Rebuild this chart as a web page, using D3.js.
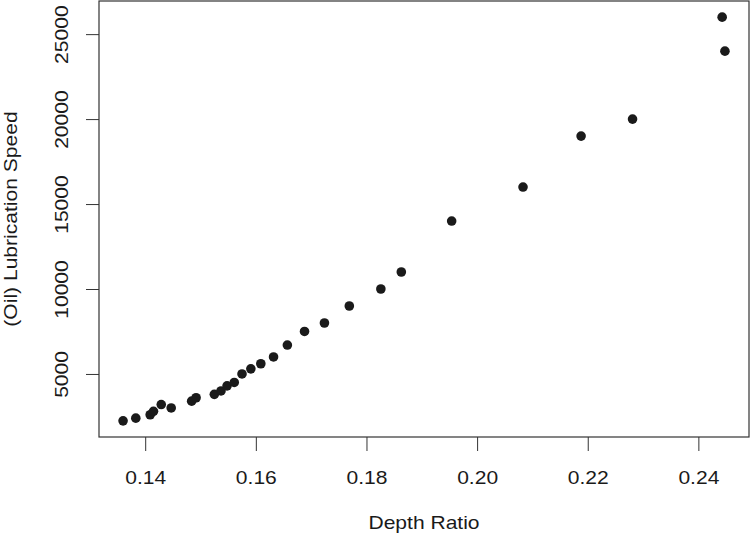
<!DOCTYPE html>
<html>
<head>
<meta charset="utf-8">
<script src="https://cdn.jsdelivr.net/npm/d3@7"></script>
<style>
  body { margin: 0; background: #fff; }
  svg { display: block; }
  text { font-family: "Liberation Sans", Arial, Helvetica, sans-serif; fill: #1a1a1a; }
</style>
</head>
<body>
<svg id="chart" width="750" height="541"></svg>
<script>
// depth ratio vs (oil) lubrication speed
var depthRatio = [0.1360, 0.1383, 0.1409, 0.1415, 0.1429, 0.1447, 0.1484, 0.1492,
    0.1525, 0.1537, 0.1548, 0.1561, 0.1575, 0.1591, 0.1609, 0.1632, 0.1657,
    0.1688, 0.1724, 0.1769, 0.1826, 0.1863, 0.1954, 0.2083, 0.2188, 0.2281,
    0.2443, 0.2448];
var lubSpeed = [2240, 2400, 2600, 2800, 3200, 3000, 3400, 3600,
    3800, 4000, 4300, 4500, 5000, 5300, 5600, 6000, 6700,
    7500, 8000, 9000, 10000, 11000, 14000, 16000, 19000, 20000,
    26000, 24000];
var xTicks = [0.14, 0.16, 0.18, 0.20, 0.22, 0.24];
var yTicks = [5000, 10000, 15000, 20000, 25000];

var svg = d3.select("#chart");
var box = { left: 99, right: 749, top: 1, bottom: 437 };
var stretch = "scale(1.17,1)";   // text in the picture is a bit wide

// R style: pad the range by 4% on each side
function padded(vals) {
    var ext = d3.extent(vals), r = ext[1] - ext[0];
    return [ext[0] - 0.04 * r, ext[1] + 0.04 * r];
}

var x = d3.scaleLinear().domain(padded(depthRatio)).range([box.left, box.right]);
var y = d3.scaleLinear().domain(padded(lubSpeed)).range([box.bottom, box.top]);

var data = depthRatio.map(function(d, i) { return { x: d, y: lubSpeed[i] }; });

// x axis
var gx = svg.append("g")
    .attr("transform", "translate(0," + box.bottom + ")")
    .call(d3.axisBottom(x).tickValues(xTicks).tickSize(14).tickSizeOuter(0)
        .tickFormat(d3.format(".2f")));
gx.select(".domain").remove();
gx.selectAll(".tick line").attr("stroke", "#333");
gx.selectAll(".tick text")
    .attr("y", 47).attr("dy", null)
    .attr("transform", stretch)
    .style("font-size", "18px");

// y axis
var gy = svg.append("g")
    .attr("transform", "translate(" + box.left + ",0)")
    .call(d3.axisLeft(y).tickValues(yTicks).tickSize(13).tickSizeOuter(0)
        .tickFormat(d3.format("d")));
gy.select(".domain").remove();
gy.selectAll(".tick line").attr("stroke", "#333");
gy.selectAll(".tick text")
    .attr("x", 0).attr("y", 0).attr("dy", null)
    .attr("text-anchor", "middle")
    .attr("transform", "translate(-31,0) rotate(-90) " + stretch)
    .style("font-size", "18px");

// plot frame
svg.append("rect")
    .attr("x", box.left).attr("y", box.top)
    .attr("width", box.right - box.left).attr("height", box.bottom - box.top)
    .attr("fill", "none").attr("stroke", "#333").attr("stroke-width", 1.2);

// points
svg.append("g").selectAll("circle")
    .data(data)
    .enter().append("circle")
        .attr("cx", function(d) { return x(d.x); })
        .attr("cy", function(d) { return y(d.y); })
        .attr("r", 4.8)
        .attr("fill", "#1a1a1a");

// axis titles
svg.append("text")
    .attr("transform", "translate(" + (box.left + box.right) / 2 + ",529) " + stretch)
    .attr("text-anchor", "middle")
    .style("font-size", "18px")
    .text("Depth Ratio");

svg.append("text")
    .attr("transform", "translate(17," + (box.top + box.bottom) / 2 + ") rotate(-90) " + stretch)
    .attr("text-anchor", "middle")
    .style("font-size", "18px")
    .text("(Oil) Lubrication Speed");
</script>
</body>
</html>
